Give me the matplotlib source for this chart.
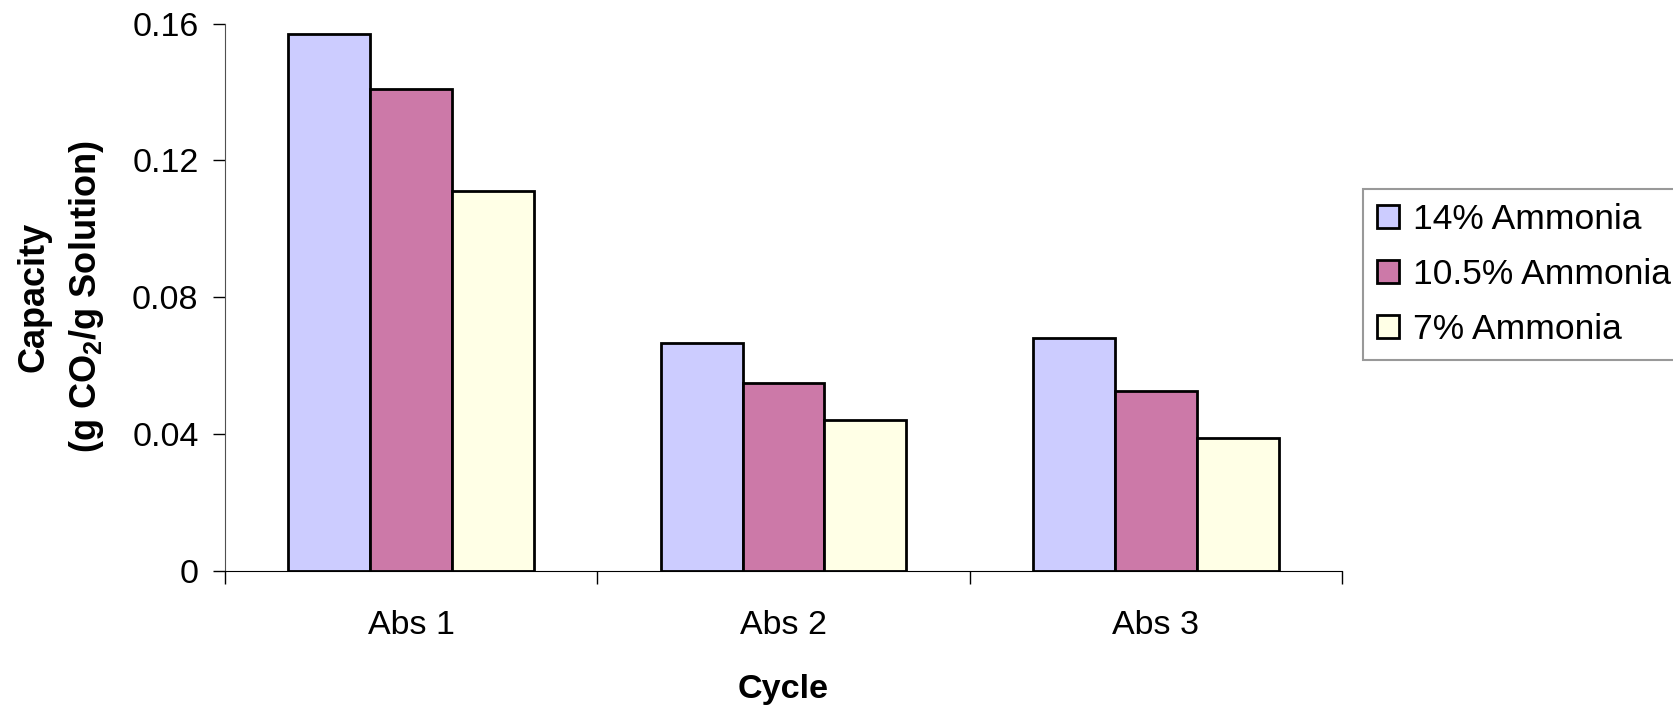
import matplotlib
matplotlib.use("Agg")
import matplotlib.pyplot as plt
import numpy as np

plt.rcParams['font.family'] = ['Liberation Sans', 'DejaVu Sans']
plt.rcParams['mathtext.fontset'] = 'custom'
plt.rcParams['mathtext.rm'] = 'Liberation Sans'
plt.rcParams['mathtext.bf'] = 'Liberation Sans:bold'

cycles = ['Abs 1', 'Abs 2', 'Abs 3']
series = ['14% Ammonia', '10.5% Ammonia', '7% Ammonia']
amm14 = [0.157, 0.0667, 0.068]
amm105 = [0.141, 0.055, 0.0525]
amm7 = [0.111, 0.044, 0.039]
colors = ['#CCCCFF', '#CC79A8', '#FFFFE6']

fig = plt.figure(figsize=(16.74, 7.13), dpi=100)
ax = fig.add_axes([225 / 1674, 1 - 571 / 713, 1117 / 1674, (571 - 23.5) / 713])

x = np.arange(1, len(cycles) + 1)
w = 0.22
for i, (vals, lab, c) in enumerate(zip([amm14, amm105, amm7], series, colors)):
    ax.bar(x + (i - 1) * w, vals, w, color=c, edgecolor='black', linewidth=2, label=lab)

ax.set_xlim(0.5, 3.5)
ax.set_ylim(0, 0.16)
ax.set_yticks([0, 0.04, 0.08, 0.12, 0.16])
ax.set_yticklabels(['0', '0.04', '0.08', '0.12', '0.16'])
ax.set_xticks(x)
ax.set_xticklabels(cycles)
ax.set_xticks([0.5, 1.5, 2.5, 3.5], minor=True)
ax.tick_params(axis='x', which='major', length=0, pad=28, labelsize=24.5)
ax.tick_params(axis='x', which='minor', length=9, width=1, direction='out')
ax.tick_params(axis='y', length=9, width=1, pad=10, labelsize=24.5)

for s in ['top', 'right']:
    ax.spines[s].set_visible(False)
ax.spines['left'].set_color('#505050')
ax.spines['bottom'].set_color('black')

ax.set_xlabel('Cycle', fontsize=24.6, fontweight='bold', labelpad=24)

# y label: two lines placed by their baselines
ymid = 1 - 297 / 713
fig.text(44 / 1674, ymid, 'Capacity', rotation=90, rotation_mode='anchor',
         ha='center', va='baseline', fontsize=26, fontweight='bold')
fig.text(96 / 1674, ymid, '(g CO$_\\mathbf{2}$/g Solution)', rotation=90,
         rotation_mode='anchor', ha='center', va='baseline', fontsize=26, fontweight='bold')

leg = fig.legend(loc='upper left', bbox_to_anchor=(1363 / 1674, 1 - 189 / 713),
                 borderaxespad=0, fontsize=25.5, frameon=True, fancybox=False,
                 handlelength=0.62, handleheight=0.62, handletextpad=0.4,
                 labelspacing=0.62, borderpad=0.4)
leg.get_frame().set_edgecolor('#808080')
leg.get_frame().set_linewidth(1.5)

fig.savefig('out.png', dpi=100)
